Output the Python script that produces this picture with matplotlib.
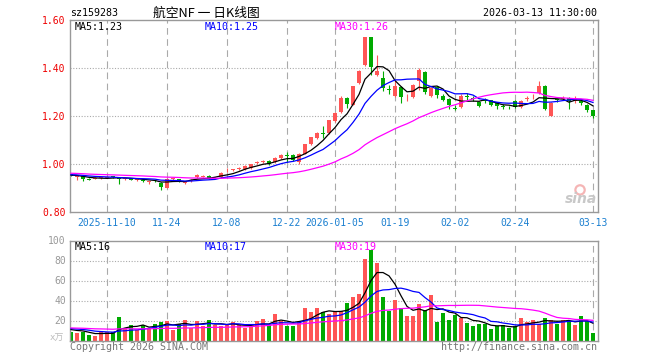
import numpy as np
import pandas as pd
import matplotlib
matplotlib.use("Agg")
import matplotlib.pyplot as plt

plt.rcParams["font.family"] = ["DejaVu Sans Mono", "Noto Sans CJK SC"]

W, H = 660, 360
RED, GREEN = "#ff5555", "#00aa00"
GREY, DATE_BLUE = "#999999", "#1a7fd0"
MA_COLS = {5: "black", 10: "#0000ff", 30: "#ff00ff"}

# ---- data -------------------------------------------------------------------
# closes before the visible window (only used to seed the moving averages)
PRE_CLOSE = [0.975, 0.972, 0.978, 0.970, 0.968, 0.972, 0.966, 0.963, 0.968, 0.960,
             0.962, 0.958, 0.965, 0.960, 0.957, 0.962, 0.958, 0.955, 0.960, 0.962,
             0.958, 0.955, 0.960, 0.958, 0.955, 0.957, 0.953, 0.956, 0.952]
PRE_VOL = [13, 12, 14, 13, 12, 13, 14, 12, 13, 12, 14, 13, 12, 13, 14,
           12, 13, 12, 14, 13, 12, 13, 12, 14, 13, 12, 11, 12, 11]

OPEN = [.958, .946, .951, .937, .939, .940, .942, .948, .944, .937,
        .940, .934, .935, .925, .930, .921, .901, .936, .937, .920,
        .928, .944, .946, .951, .944, .944, .974, .975, .980, .979,
        .983, 1.005, 1.009, 1.014, 1.007, 1.025, 1.036, 1.037, 1.007, 1.043,
        1.083, 1.108, 1.127, 1.129, 1.178, 1.215, 1.275, 1.247, 1.338, 1.414,
        1.529, 1.372, 1.358, 1.311, 1.285, 1.320, 1.274, 1.278, 1.344, 1.382,
        1.282, 1.320, 1.285, 1.271, 1.230, 1.238, 1.283, 1.273, 1.257, 1.265,
        1.265, 1.257, 1.243, 1.237, 1.264, 1.238, 1.271, 1.278, 1.296, 1.326,
        1.201, 1.269, 1.271, 1.275, 1.261, 1.264, 1.247, 1.223]
HIGH = [.960, .953, .953, .940, .944, .946, .948, .950, .947, .942,
        .942, .939, .937, .929, .932, .923, .940, .944, .939, .925,
        .937, .957, .953, .953, .947, .965, .982, .981, .986, .995,
        1.002, 1.014, 1.018, 1.017, 1.030, 1.042, 1.050, 1.040, 1.045, 1.085,
        1.114, 1.132, 1.160, 1.184, 1.216, 1.285, 1.280, 1.325, 1.392, 1.530,
        1.530, 1.455, 1.386, 1.330, 1.350, 1.325, 1.290, 1.335, 1.400, 1.386,
        1.320, 1.324, 1.290, 1.275, 1.247, 1.290, 1.295, 1.282, 1.262, 1.275,
        1.268, 1.260, 1.248, 1.242, 1.268, 1.268, 1.285, 1.290, 1.347, 1.330,
        1.260, 1.276, 1.285, 1.280, 1.282, 1.268, 1.250, 1.226]
LOW = [.948, .935, .930, .932, .936, .938, .940, .942, .915, .934,
       .932, .930, .926, .918, .925, .890, .898, .933, .926, .916,
       .925, .942, .944, .938, .942, .942, .966, .969, .974, .977,
       .980, .998, 1.004, .996, 1.004, 1.022, 1.010, 1.012, .998, 1.040,
       1.080, 1.104, 1.108, 1.126, 1.175, 1.212, 1.232, 1.244, 1.335, 1.410,
       1.372, 1.366, 1.306, 1.290, 1.280, 1.255, 1.264, 1.275, 1.310, 1.290,
       1.278, 1.275, 1.262, 1.230, 1.225, 1.235, 1.268, 1.262, 1.238, 1.255,
       1.240, 1.228, 1.230, 1.228, 1.232, 1.234, 1.262, 1.272, 1.290, 1.226,
       1.198, 1.260, 1.265, 1.230, 1.255, 1.247, 1.218, 1.190]
CLOSE = [.950, .949, .937, .934, .941, .944, .945, .944, .938, .940,
         .935, .937, .930, .927, .928, .903, .937, .940, .930, .923,
         .935, .955, .950, .940, .945, .962, .976, .977, .983, .993,
         1.000, 1.007, 1.011, 1.000, 1.027, 1.039, 1.034, 1.015, 1.043, 1.083,
         1.111, 1.129, 1.125, 1.182, 1.212, 1.276, 1.250, 1.323, 1.389, 1.529,
         1.403, 1.386, 1.317, 1.309, 1.323, 1.279, 1.276, 1.330, 1.393, 1.298,
         1.317, 1.286, 1.268, 1.247, 1.229, 1.282, 1.281, 1.271, 1.243, 1.264,
         1.247, 1.243, 1.236, 1.236, 1.238, 1.264, 1.273, 1.280, 1.326, 1.230,
         1.255, 1.268, 1.273, 1.261, 1.272, 1.254, 1.223, 1.201]
VOL = [8.6, 7.6, 8.6, 5.3, 4.6, 8.6, 8.6, 8.6, 23.6, 13,
       15.3, 10.3, 15.3, 13, 16.3, 18.6, 19.6, 10.3, 17, 20.3,
       13, 19.6, 14.3, 20.3, 15.3, 14.3, 15.3, 18.3, 15.3, 13,
       13.6, 19.6, 21.3, 15.3, 26.3, 19.6, 14.6, 14.6, 19.6, 32.3,
       28.6, 32.3, 28.6, 26.3, 29, 29.3, 37.6, 43.6, 46.3, 82,
       90.3, 77.6, 43.6, 29.6, 40.3, 32.6, 24.3, 24.3, 36.3, 30.3,
       45.3, 18.6, 27.6, 20.3, 25.3, 23, 17.6, 14.3, 17, 16.3,
       11.3, 14.3, 15.3, 12.6, 14.3, 22.3, 18.6, 20.3, 16.3, 22.3,
       20.3, 17, 21, 19.6, 15.3, 24.3, 19.6, 7.6]

DATE_IDX = [6, 16, 26, 36, 44, 54, 64, 74, 87]
DATE_LAB = ["2025-11-10", "11-24", "12-08", "12-22", "2026-01-05",
            "01-19", "02-02", "02-24", "03-13"]
PRICE_TICKS = [0.80, 1.00, 1.20, 1.40, 1.60]
VOL_TICKS = [20, 40, 60, 80, 100]
MA_PRICE_TXT = {5: "MA5:1.23", 10: "MA10:1.25", 30: "MA30:1.26"}
MA_VOL_TXT = {5: "MA5:16", 10: "MA10:17", 30: "MA30:19"}

# ---- derived ---------------------------------------------------------------
O, Hh, L, C, V = map(np.array, (OPEN, HIGH, LOW, CLOSE, VOL))
n = len(C)
x = np.arange(n)
col = np.where(C >= O, RED, GREEN)
cs = pd.Series(PRE_CLOSE + CLOSE)
vs = pd.Series(PRE_VOL + VOL)
ma_p = {k: cs.rolling(k).mean().values[-n:] for k in (5, 10, 30)}
ma_v = {k: vs.rolling(k).mean().values[-n:] for k in (5, 10, 30)}

fig = plt.figure(figsize=(W / 100, H / 100), dpi=100)
fig.patch.set_facecolor("white")

def fx(px): return px / W
def fy(py): return 1 - py / H

ax1 = fig.add_axes([fx(70), fy(212), 528 / W, 192 / H])
ax2 = fig.add_axes([fx(70), fy(340.5), 528 / W, 100 / H])
XL = (-0.17, 87.83)

for ax in (ax1, ax2):
    ax.set_xlim(*XL)
    for s in ax.spines.values():
        s.set_color(GREY); s.set_linewidth(1)
    for i in DATE_IDX:
        ax.axvline(i, color="#aaaaaa", lw=0.8, ls=(0, (6, 4)), zorder=1)
    ax.tick_params(length=0, labelsize=7)

# price panel
ax1.set_ylim(0.80, 1.60)
for v in PRICE_TICKS[1:-1]:
    ax1.axhline(v, color="#aaaaaa", lw=0.8, ls=(0, (1, 1.5)), zorder=1)
ax1.vlines(x, L, Hh, colors=col, lw=0.8, zorder=2)
ax1.bar(x, np.maximum(np.abs(C - O), 0.003), bottom=np.minimum(O, C),
        width=0.75, color=col, lw=0, zorder=2)
for k, c in MA_COLS.items():
    ax1.plot(x, ma_p[k], color=c, lw=0.9, zorder=3)
ax1.set_yticks(PRICE_TICKS, [f"{v:.2f}" for v in PRICE_TICKS])
ax1.tick_params(axis="y", labelcolor="#ee0000", pad=3)
ax1.set_xticks(DATE_IDX, DATE_LAB)
ax1.tick_params(axis="x", labelcolor=DATE_BLUE, pad=4)

# watermark
ax1.scatter([0.966], [0.115], s=45, facecolors="none", edgecolors="#f5b5b5",
            lw=1.6, transform=ax1.transAxes, zorder=1)
ax1.text(0.998, 0.07, "sina", transform=ax1.transAxes, ha="right", va="center",
         fontsize=10, fontweight="bold", style="italic", color="#c8c8c8",
         family="DejaVu Sans", zorder=1)

# volume panel
ax2.set_ylim(0, 100)
for v in VOL_TICKS[:-1]:
    ax2.axhline(v, color="#aaaaaa", lw=0.8, ls=(0, (1, 1.5)), zorder=1)
ax2.bar(x, V, width=0.75, color=col, lw=0, zorder=2)
for k, c in MA_COLS.items():
    ax2.plot(x, ma_v[k], color=c, lw=0.9, zorder=3)
ax2.set_yticks(VOL_TICKS, [str(v) for v in VOL_TICKS])
ax2.tick_params(axis="y", labelcolor=GREY, pad=3)
ax2.set_xticks([])

# texts
fig.text(fx(70), fy(13), "sz159283", ha="left", va="center", fontsize=7.2)
fig.text(fx(206), fy(13), "航空NF 一 日K线图", ha="center", va="center", fontsize=9.2,
         family=["Noto Sans CJK SC", "DejaVu Sans Mono"])
fig.text(fx(597), fy(13), "2026-03-13 11:30:00", ha="right", va="center", fontsize=7.2)
for (k, c), px in zip(MA_COLS.items(), (75, 205, 335)):
    fig.text(fx(px), fy(26.5), MA_PRICE_TXT[k], color=c, ha="left", va="center", fontsize=7.2)
    fig.text(fx(px), fy(246.5), MA_VOL_TXT[k], color=c, ha="left", va="center", fontsize=7.2)
fig.text(fx(57), fy(338), "x万", ha="center", va="center", fontsize=6.5, color="#bbbbbb",
         family=["DejaVu Sans Mono", "Noto Sans CJK SC"])
fig.text(fx(70), fy(347), "Copyright 2026 SINA.COM", ha="left", va="center",
         fontsize=7.2, color="#777777")
fig.text(fx(597), fy(347), "http://finance.sina.com.cn", ha="right", va="center",
         fontsize=7.2, color="#777777")

fig.savefig("out.png", dpi=100, facecolor="white")
